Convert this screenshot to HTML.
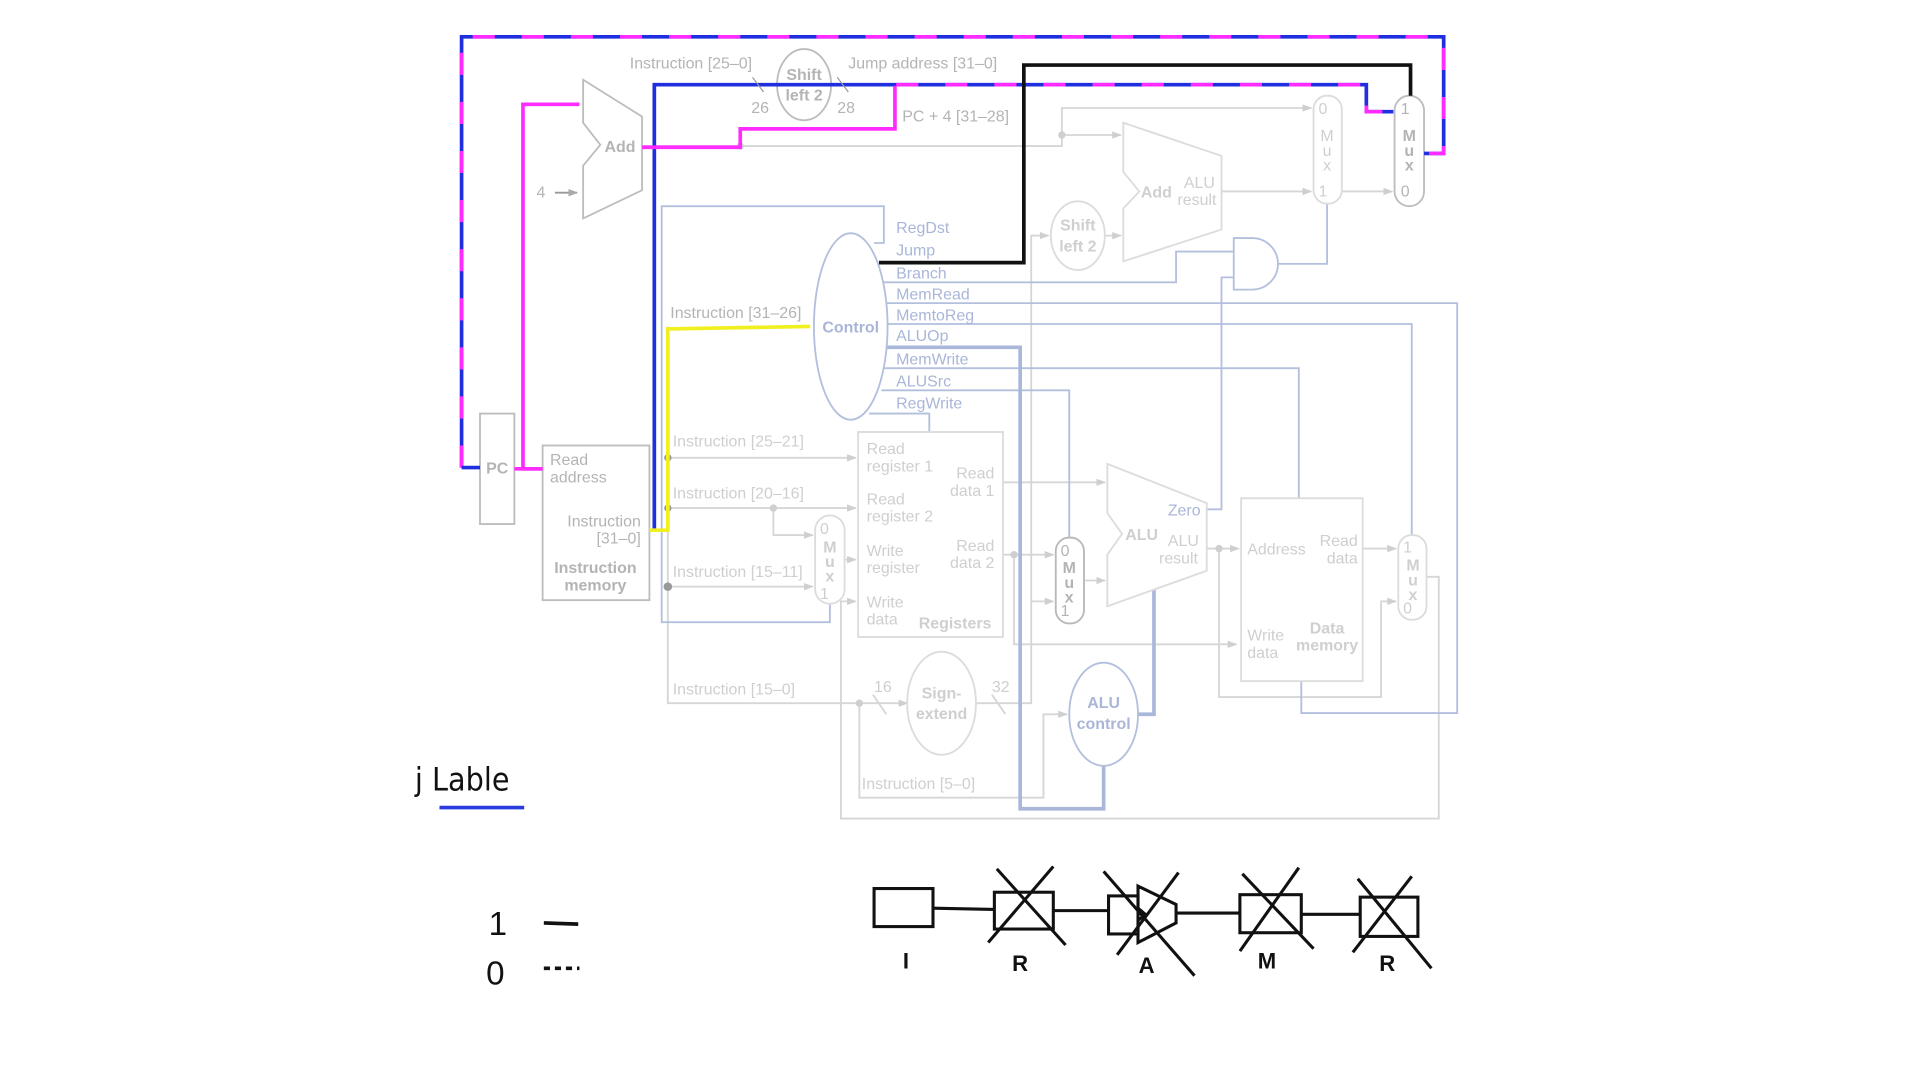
<!DOCTYPE html>
<html><head><meta charset="utf-8"><style>
html,body{margin:0;padding:0;background:#fff;}
svg{display:block;}
text{font-family:"Liberation Sans",sans-serif;}
.g{fill:#b4b4b4;font-size:13px;}
.gl{fill:#cfcfcf;font-size:13px;}
.b{fill:#a9b6d8;font-size:13px;}
.bold{font-weight:bold;}
</style></head><body>
<svg width="1920" height="1080" viewBox="0 0 1564 880" preserveAspectRatio="none" xmlns="http://www.w3.org/2000/svg">
<defs>
<marker id="ag" markerWidth="8" markerHeight="8" refX="7" refY="4" orient="auto" markerUnits="userSpaceOnUse"><path d="M0,1 L8,4 L0,7z" fill="#cfcfcf"/></marker>
<marker id="ag2" markerWidth="8" markerHeight="8" refX="7" refY="4" orient="auto" markerUnits="userSpaceOnUse"><path d="M0,1 L8,4 L0,7z" fill="#aaa"/></marker>
</defs>
<rect width="1564" height="880" fill="#fff"/>

<!-- faded gray datapath wires -->
<g fill="none" stroke="#d6d6d6" stroke-width="1.5">
<polyline points="523,119 865,119 865,88 1068,88" marker-end="url(#ag)"/>
<polyline points="865,110 913,110" marker-end="url(#ag)"/>
<polyline points="995,156 1068,156" marker-end="url(#ag)"/>
<polyline points="1093,156 1134,156" marker-end="url(#ag)"/>
<polyline points="544,266 544,573 739,573" marker-end="url(#ag)"/>
<polyline points="544,373 697,373" marker-end="url(#ag)"/>
<polyline points="544,414 697,414" marker-end="url(#ag)"/>
<polyline points="630,414 630,436 662,436" marker-end="url(#ag)"/>
<polyline points="544,478 662,478" marker-end="url(#ag)"/>
<polyline points="688,456 697,456" marker-end="url(#ag)"/>
<polyline points="700,573 700,650 850,650 850,582 869,582" marker-end="url(#ag)"/>
<polyline points="795,573 840,573 840,192 854,192" />
<polyline points="840,192 854,192" marker-end="url(#ag)"/>
<polyline points="900,192 913,192" marker-end="url(#ag)"/>
<polyline points="840,490 858,490" marker-end="url(#ag)"/>
<polyline points="817,393 900,393" marker-end="url(#ag)"/>
<polyline points="817,452 858,452" marker-end="url(#ag)"/>
<polyline points="826,452 826,525 1007,525" marker-end="url(#ag)"/>
<polyline points="883,473 900,473" marker-end="url(#ag)"/>
<polyline points="983,447 1009,447" marker-end="url(#ag)"/>
<polyline points="993,447 993,568 1125,568 1125,490 1137,490" marker-end="url(#ag)"/>
<polyline points="1110,447 1137,447" marker-end="url(#ag)"/>
<polyline points="1162,470 1172,470 1172,667 685,667 685,490 697,490" marker-end="url(#ag)"/>
<line x1="711" y1="566" x2="722" y2="582"/><line x1="808" y1="566" x2="819" y2="582"/>
</g>
<g fill="#cfcfcf"><circle cx="865" cy="110" r="3"/><circle cx="630" cy="414" r="3"/><circle cx="700" cy="573" r="3"/><circle cx="826" cy="452" r="3"/><circle cx="993" cy="447" r="3"/><circle cx="603" cy="119" r="3"/></g>
<g fill="#999"><circle cx="544" cy="373" r="3"/><circle cx="544" cy="414" r="3"/><circle cx="544" cy="478" r="3.5"/></g>

<!-- blue control wires -->
<g fill="none" stroke="#b3c0dd" stroke-width="1.5">
<polyline points="712,198 720,198 720,168 539,168 539,507 676,507 676,492"/>
<polyline points="720,230 958,230 958,205 1005,205"/>
<polyline points="720,247 1187,247 1187,581 1060,581 1060,555"/>
<polyline points="722,264 1150,264 1150,436"/>
<polyline points="720,300 1058,300 1058,406"/>
<polyline points="718,318 871,318 871,438"/>
<polyline points="708,337 757,337 757,352"/>
<polyline points="983,415 995,415 995,226 1005,226"/>
<polyline points="1041,215 1081,215 1081,166"/>
</g>
<g fill="none" stroke="#a9b8da" stroke-width="3">
<polyline points="722,283 831,283 831,659 899,659 899,624"/>
<polyline points="927,582 940,582 940,478"/>
</g>

<!-- components gray -->
<g fill="#fff" stroke="#bdbdbd" stroke-width="1.5">
<rect x="391" y="337" width="28" height="90"/>
<rect x="442" y="363" width="87" height="126"/>
<polygon points="475,65 523,95 523,155 475,178 475,135 489,118 475,100"/>
<ellipse cx="655" cy="69" rx="22" ry="29"/>
<rect x="1136" y="78" width="24" height="90" rx="12"/>
</g>
<g fill="#fff" stroke="#dcdcdc" stroke-width="1.5">
<polygon points="915,100 995,127 995,187 915,213 915,170 928,156 915,140"/>
<ellipse cx="878" cy="192" rx="22" ry="28"/>
<rect x="1070" y="78" width="23" height="88" rx="11"/>
<rect x="699" y="352" width="118" height="167"/>
<rect x="664" y="420" width="24" height="72" rx="12"/>
<polygon points="902,378 983,410 983,465 902,494 902,452 914,435 902,418"/>
<rect x="1011" y="406" width="99" height="149"/>
<rect x="1139" y="436" width="23" height="69" rx="11"/>
<ellipse cx="767" cy="573" rx="28" ry="42"/>
</g>
<rect x="860" y="438" width="23" height="70" rx="11" fill="#fff" stroke="#b8b8b8" stroke-width="1.5"/>
<g fill="#fff" stroke="#b3c0dd" stroke-width="1.5">
<ellipse cx="693" cy="266" rx="30" ry="76"/>
<ellipse cx="899" cy="582" rx="28" ry="42"/>
<path d="M1005,194 L1020,194 A21,21 0 0 1 1020,236 L1005,236 Z"/>
</g>

<!-- highlighted wires -->
<g fill="none" stroke-linejoin="miter">
<polyline points="376,381 376,30 1176,30 1176,125 1160,125" stroke="#1f2fe0" stroke-width="3"/>
<polyline points="376,381 376,30 1176,30 1176,125 1160,125" stroke="#ff2bff" stroke-width="3" stroke-dasharray="18,22"/>
<polyline points="376,381 391,381" stroke="#1f2fe0" stroke-width="3"/>
<polyline points="533,432 533,69 1113,69 1113,91 1135,91" stroke="#1f2fe0" stroke-width="3"/>
<polyline points="730,69 1113,69 1113,91 1135,91" stroke="#ff2bff" stroke-width="3" stroke-dasharray="18,22"/>
<polyline points="523,120 603,120 603,105 729,105 729,70" stroke="#ff2bff" stroke-width="3"/>
<polyline points="442,382 426,382 426,85 472,85" stroke="#ff2bff" stroke-width="3"/>
<polyline points="419,382 442,382" stroke="#ff2bff" stroke-width="3"/>
<polyline points="716,214 834,214 834,53 1149,53 1149,78" stroke="#111" stroke-width="3"/>
<polyline points="529,432 544,432 544,268 660,266" stroke="#f0f020" stroke-width="3"/>
</g>
<line x1="613" y1="63" x2="622" y2="75" stroke="#999"/><line x1="682" y1="63" x2="691" y2="75" stroke="#999"/>
<line x1="452" y1="157" x2="470" y2="157" stroke="#999" stroke-width="1.5" marker-end="url(#ag2)"/>

<!-- labels gray -->
<text class="g" x="405" y="386" text-anchor="middle" font-weight="bold">PC</text>
<text class="g" x="448" y="379">Read</text><text class="g" x="448" y="393">address</text>
<text class="g" x="522" y="429" text-anchor="end">Instruction</text><text class="g" x="522" y="443" text-anchor="end">[31–0]</text>
<text class="g bold" x="485" y="467" text-anchor="middle">Instruction</text><text class="g bold" x="485" y="481" text-anchor="middle">memory</text>
<text class="g bold" x="505" y="124" text-anchor="middle" font-size="14">Add</text>
<text class="g" x="437" y="161">4</text>
<text class="g bold" x="655" y="65" text-anchor="middle">Shift</text><text class="g bold" x="655" y="82" text-anchor="middle">left 2</text>
<text class="g" x="513" y="56">Instruction [25–0]</text>
<text class="g" x="612" y="92">26</text><text class="g" x="682" y="92">28</text>
<text class="g" x="691" y="56">Jump address [31–0]</text>
<text class="g" x="735" y="99">PC + 4 [31–28]</text>
<text class="g" x="1141" y="93">1</text><text class="g" x="1141" y="160">0</text>
<text class="g bold" x="1148" y="115" text-anchor="middle">M</text><text class="g bold" x="1148" y="127" text-anchor="middle">u</text><text class="g bold" x="1148" y="139" text-anchor="middle">x</text>
<text class="g" x="546" y="259">Instruction [31–26]</text>

<g class="gl">
<text class="gl bold" x="942" y="161" text-anchor="middle">Add</text>
<text class="gl" x="977" y="153" text-anchor="middle">ALU</text><text class="gl" x="975" y="167" text-anchor="middle">result</text>
<text class="gl bold" x="878" y="188" text-anchor="middle">Shift</text><text class="gl bold" x="878" y="205" text-anchor="middle">left 2</text>
<text class="gl" x="1074" y="93">0</text><text class="gl" x="1074" y="160">1</text>
<text class="gl" x="1081" y="115" text-anchor="middle">M</text><text class="gl" x="1081" y="127" text-anchor="middle">u</text><text class="gl" x="1081" y="139" text-anchor="middle">x</text>
<text class="gl" x="548" y="364">Instruction [25–21]</text>
<text class="gl" x="548" y="406">Instruction [20–16]</text>
<text class="gl" x="548" y="470">Instruction [15–11]</text>
<text class="gl" x="548" y="566">Instruction [15–0]</text>
<text class="gl" x="702" y="643">Instruction [5–0]</text>
<text class="gl" x="706" y="370">Read</text><text class="gl" x="706" y="384">register 1</text>
<text class="gl" x="706" y="411">Read</text><text class="gl" x="706" y="425">register 2</text>
<text class="gl" x="706" y="453">Write</text><text class="gl" x="706" y="467">register</text>
<text class="gl" x="706" y="495">Write</text><text class="gl" x="706" y="509">data</text>
<text class="gl" x="810" y="390" text-anchor="end">Read</text><text class="gl" x="810" y="404" text-anchor="end">data 1</text>
<text class="gl" x="810" y="449" text-anchor="end">Read</text><text class="gl" x="810" y="463" text-anchor="end">data 2</text>
<text class="gl bold" x="778" y="512" text-anchor="middle">Registers</text>
<text class="gl" x="668" y="435">0</text><text class="gl" x="668" y="488">1</text>
<text class="gl bold" x="676" y="450" text-anchor="middle">M</text><text class="gl bold" x="676" y="462" text-anchor="middle">u</text><text class="gl bold" x="676" y="474" text-anchor="middle">x</text>
<text class="gl" x="712" y="564">16</text><text class="gl" x="808" y="564">32</text>
<text class="gl bold" x="767" y="569" text-anchor="middle">Sign-</text><text class="gl bold" x="767" y="586" text-anchor="middle">extend</text>
<text class="gl bold" x="930" y="440" text-anchor="middle">ALU</text>
<text class="gl" x="964" y="445" text-anchor="middle">ALU</text><text class="gl" x="960" y="459" text-anchor="middle">result</text>
<text class="gl" x="1016" y="452">Address</text>
<text class="gl" x="1106" y="445" text-anchor="end">Read</text><text class="gl" x="1106" y="459" text-anchor="end">data</text>
<text class="gl" x="1016" y="522">Write</text><text class="gl" x="1016" y="536">data</text>
<text class="gl bold" x="1081" y="516" text-anchor="middle">Data</text><text class="gl bold" x="1081" y="530" text-anchor="middle">memory</text>
<text class="gl" x="1143" y="450">1</text><text class="gl" x="1143" y="500">0</text>
<text class="gl bold" x="1151" y="465" text-anchor="middle">M</text><text class="gl bold" x="1151" y="477" text-anchor="middle">u</text><text class="gl bold" x="1151" y="489" text-anchor="middle">x</text>
</g>
<text class="g" x="864" y="453">0</text><text class="g" x="864" y="502">1</text>
<text class="g bold" x="871" y="467" text-anchor="middle">M</text><text class="g bold" x="871" y="479" text-anchor="middle">u</text><text class="g bold" x="871" y="491" text-anchor="middle">x</text>

<!-- blue labels -->
<text class="b bold" x="693" y="271" text-anchor="middle" font-size="14">Control</text>
<text class="b" x="730" y="190">RegDst</text>
<text class="b" x="730" y="208">Jump</text>
<text class="b" x="730" y="227">Branch</text>
<text class="b" x="730" y="244">MemRead</text>
<text class="b" x="730" y="261">MemtoReg</text>
<text class="b" x="730" y="278">ALUOp</text>
<text class="b" x="730" y="297">MemWrite</text>
<text class="b" x="730" y="315">ALUSrc</text>
<text class="b" x="730" y="333">RegWrite</text>
<text class="b" x="978" y="420" text-anchor="end">Zero</text>
<text class="b bold" x="899" y="577" text-anchor="middle">ALU</text><text class="b bold" x="899" y="594" text-anchor="middle">control</text>

<!-- bottom annotations -->
<text x="338" y="644" font-size="26" fill="#111" style="font-family:'DejaVu Sans Condensed','Liberation Sans',sans-serif">j Lable</text>
<line x1="358" y1="658" x2="427" y2="658" stroke="#2a3be0" stroke-width="3"/>
<text x="398" y="762" font-size="27" fill="#111">1</text>
<line x1="443" y1="752" x2="471" y2="753" stroke="#111" stroke-width="3"/>
<text x="396" y="802" font-size="27" fill="#111">0</text>
<line x1="443" y1="789" x2="472" y2="789" stroke="#111" stroke-width="3" stroke-dasharray="5,4"/>

<g fill="none" stroke="#111" stroke-width="2.5">
<rect x="712" y="724" width="48" height="31"/>
<line x1="760" y1="740" x2="810" y2="741"/>
<rect x="810" y="727" width="48" height="30"/>
<line x1="812" y1="708" x2="868" y2="770"/><line x1="858" y1="706" x2="805" y2="768"/>
<line x1="858" y1="742" x2="903" y2="742"/>
<rect x="903" y="730" width="24" height="31"/>
<polygon points="927,722 958,737 958,752 927,768 927,750 933,745 927,740"/>
<line x1="899" y1="710" x2="973" y2="795"/><line x1="960" y1="711" x2="910" y2="778"/>
<line x1="958" y1="744" x2="1010" y2="744"/>
<rect x="1010" y="729" width="50" height="31"/>
<line x1="1012" y1="712" x2="1070" y2="773"/><line x1="1058" y1="707" x2="1010" y2="775"/>
<line x1="1060" y1="745" x2="1108" y2="745"/>
<rect x="1108" y="731" width="47" height="32"/>
<line x1="1106" y1="716" x2="1166" y2="789"/><line x1="1150" y1="714" x2="1102" y2="776"/>
</g>
<g font-size="18" fill="#111" text-anchor="middle" style="font-family:'Liberation Mono',monospace;font-weight:bold">
<text x="738" y="789">I</text><text x="831" y="791">R</text><text x="934" y="793">A</text><text x="1032" y="789">M</text><text x="1130" y="791">R</text>
</g>
</svg>
</body></html>
